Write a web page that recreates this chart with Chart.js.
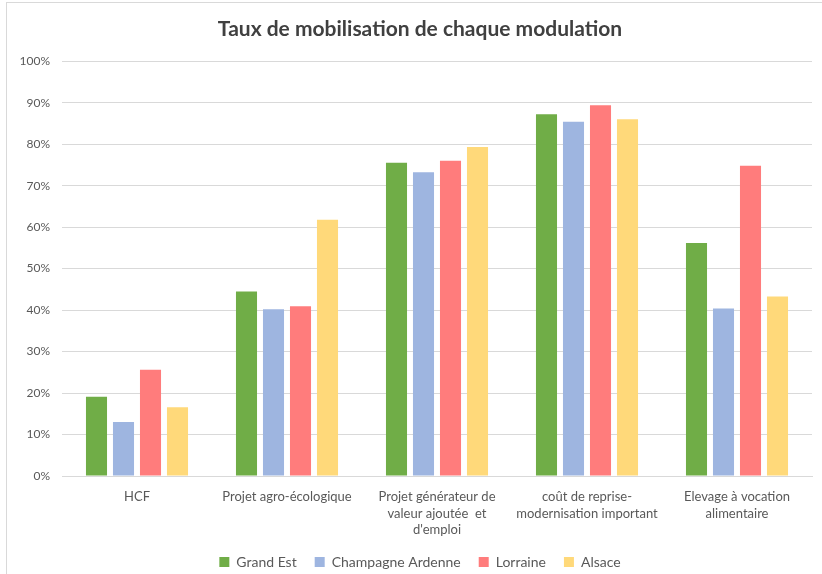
<!DOCTYPE html>
<html>
<head>
<meta charset="utf-8">
<script src="https://cdn.jsdelivr.net/npm/chart.js@4/dist/chart.umd.min.js"></script>
<style>
  html, body { margin: 0; padding: 0; background: #fff; }
  #wrap { position: relative; width: 822px; height: 574px; }
  #frame { position: absolute; left: 6px; top: 2px; right: 0; bottom: 0; border-left: 1px solid #d9d9d9; border-top: 1px solid #d9d9d9; pointer-events: none; }
  canvas { position: absolute; left: 0; top: 0; }
</style>
</head>
<body>
<div id="wrap">
  <canvas id="c" width="822" height="574"></canvas>
  <div id="frame"></div>
</div>
<script>
const categories = [
  "HCF",
  ["Projet agro-écologique"],
  ["Projet générateur de", "valeur ajoutée  et", "d'emploi"],
  ["coût de reprise-", "modernisation important"],
  ["Elevage à vocation", "alimentaire"]
];
const seriesNames = ["Grand Est", "Champagne Ardenne", "Lorraine", "Alsace"];
const grandEst = [0.191, 0.445, 0.755, 0.872, 0.562];
const champagneArdenne = [0.130, 0.402, 0.732, 0.854, 0.404];
const lorraine = [0.256, 0.409, 0.760, 0.894, 0.748];
const alsace = [0.166, 0.618, 0.793, 0.860, 0.433];
const yTicks = [0, 0.1, 0.2, 0.3, 0.4, 0.5, 0.6, 0.7, 0.8, 0.9, 1.0];

const colors = ["#70AD47", "#9EB5E0", "#FF7C7C", "#FFD97A"];
const values = [grandEst, champagneArdenne, lorraine, alsace];

const FONT = "Lato, 'Liberation Sans', sans-serif";

const shiftBoxes = {
  id: 'shiftBoxes',
  afterLayout(chart) {
    const lg = chart.legend;
    if (lg) { lg.left += 10; lg.right += 10; }
    const t = chart.titleBlock;
    if (t) { t.left += 10; t.right += 10; }
  }
};

new Chart(document.getElementById('c'), {
  type: 'bar',
  data: {
    labels: categories,
    datasets: seriesNames.map((n, i) => ({
      label: n,
      data: values[i],
      backgroundColor: colors[i],
      borderWidth: 0,
      barPercentage: 0.78,
      categoryPercentage: 0.72
    }))
  },
  plugins: [shiftBoxes],
  options: {
    responsive: false,
    animation: false,
    devicePixelRatio: 1,
    layout: { padding: { left: 8, right: 10, top: 0, bottom: -5 } },
    plugins: {
      title: {
        display: true,
        text: "Taux de mobilisation de chaque modulation",
        color: "#404040",
        font: { family: FONT, size: 21, weight: 'bold' },
        padding: { top: 17, bottom: 19 }
      },
      legend: {
        position: 'bottom',
        labels: {
          boxWidth: 10,
          boxHeight: 10,
          padding: 18,
          color: "#595959",
          font: { family: FONT, size: 14 }
        }
      },
      tooltip: { enabled: false }
    },
    scales: {
      x: {
        grid: { display: false },
        border: { display: true, color: "#d9d9d9", width: 1 },
        ticks: {
          color: "#595959",
          font: { family: FONT, size: 13, lineHeight: 1.3 },
          padding: 4,
          maxRotation: 0,
          autoSkip: false
        },
        afterFit(scale) { scale.height = 61; }
      },
      y: {
        min: 0,
        max: 1,
        afterBuildTicks(scale) { scale.ticks = yTicks.map(v => ({ value: v })); },
        grid: { color: "#d9d9d9", drawTicks: false },
        border: { display: false },
        ticks: {
          color: "#595959",
          font: { family: FONT, size: 12 },
          padding: 12,
          callback: v => Math.round(v * 100) + "%"
        },
        afterFit(scale) { scale.width = 54; }
      }
    }
  }
});
</script>
</body>
</html>
